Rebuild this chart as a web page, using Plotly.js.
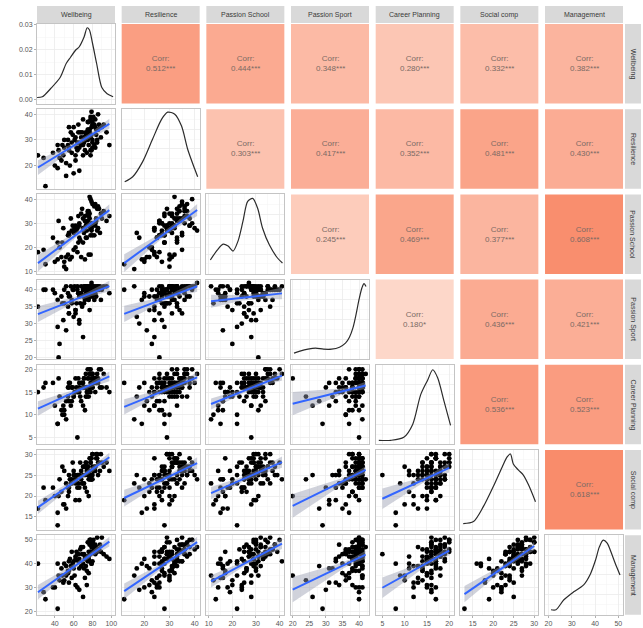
<!DOCTYPE html>
<html><head><meta charset="utf-8">
<script src="https://cdn.plot.ly/plotly-3.0.1.min.js"></script>
<style>html,body{margin:0;padding:0;background:#fff}#chart{width:643px;height:628px}</style>
</head><body><div id="chart"></div>
<script>
// ---------- DATA ----------
const variableNames = ['Wellbeing','Resilience','Passion School','Passion Sport','Career Planning','Social comp','Management'];

const wellbeing = [
40,22,52,43,47,30,55,43,28,50,
55,45,62,38,52,58,44,65,49,54,
58,66,50,62,54,70,56,48,64,60,
66,57,63,74,55,68,61,72,59,65,
70,76,62,72,78,66,60,74,71,68,
74,79,67,76,71,78,64,77,80,73,
76,72,80,69,78,75,82,77,70,79,
78,82,75,85,76,80,73,83,79,88,
80,86,77,83,90,79,75,84,81,87,
84,92,80,86,98,78,89,83,95,85];
const resilience = [
20,24,16,28,22,12,26,19,23,30,
27,23,31,25,21,29,26,33,24,28,
25,18,27,22,30,24,20,28,26,17,
29,33,27,31,35,28,30,26,32,36,
28,32,24,30,26,27,35,25,29,31,
30,26,33,28,31,24,29,34,27,32,
34,31,37,33,39,30,36,32,38,35,
31,28,34,30,37,29,33,27,32,35,
36,40,33,38,35,41,37,34,39,36,
32,36,30,34,28,38,31,35,33,29];
const passionSchool = [
14,18,11,22,16,13,25,15,19,12,
26,20,29,24,16,27,31,22,28,25,
16,24,14,20,17,28,15,22,18,26,
29,32,27,30,25,34,28,31,29,33,
22,17,27,15,25,30,19,24,28,16,
27,30,23,29,26,17,28,32,25,29,
35,33,38,36,40,34,37,41,32,39,
28,25,31,27,33,29,24,30,28,26,
30,28,34,29,32,27,35,31,30,36,
32,35,30,37,33,29,34,38,31,36];
const passionSport = [
39,35,41,29,38,40,33,37,40,36,
38,24,33,40,28,36,20,39,31,35,
37,30,40,34,39,26,38,36,41,32,
38,41,36,40,33,39,41,37,40,39,
40,37,34,41,39,31,40,38,36,41,
41,39,36,40,41,38,40,34,41,39,
40,38,41,35,40,39,37,41,38,40,
41,39,40,41,38,40,41,39,40,41,
40,41,39,41,40,42,41,38,41,40,
40,41,38,40,39,41,37,40,41,40];
const careerPlanning = [
12,15,9,8,11,17,13,8,16,10,
16,14,15,17,13,16,18,15,12,16,
13,16,11,15,14,12,17,10,15,14,
15,12,16,14,17,13,15,11,16,18,
17,15,18,16,19,17,14,16,18,17,
15,17,14,16,18,15,5,16,17,14,
18,16,19,17,20,18,17,19,16,18,
16,18,15,17,14,16,19,15,17,16,
19,17,20,18,16,19,20,17,18,20,
17,19,16,18,15,17,20,18,16,19];
const socialComp = [
20,17,23,13,21,19,25,16,22,18,
21,24,19,22,17,23,20,25,18,22,
24,22,26,23,20,25,24,27,22,25,
25,23,24,27,22,26,24,25,28,23,
23,20,25,22,24,19,26,21,23,24,
26,24,28,25,27,29,25,26,24,28,
24,27,25,23,28,25,26,24,27,25,
28,26,27,29,25,30,28,27,29,26,
27,25,29,26,28,24,27,30,26,28,
29,27,30,28,26,29,30,27,28,30];
const management = [
30,40,35,21,38,25,32,40,28,33,
37,33,42,30,39,45,35,41,32,36,
34,29,40,31,37,26,42,35,30,38,
42,39,45,37,41,47,35,43,40,44,
40,36,43,34,45,38,41,31,44,39,
43,40,46,42,38,45,44,48,41,39,
45,42,48,44,50,43,46,41,47,45,
44,47,41,45,43,49,42,46,40,48,
48,46,50,44,51,47,49,45,50,46,
47,44,49,46,42,50,45,48,43,51];

// correlation labels, upper triangle, row by row
const corrWellbeing      = ['0.512***','0.444***','0.348***','0.280***','0.332***','0.382***'];
const corrResilience     = ['0.303***','0.417***','0.352***','0.481***','0.430***'];
const corrPassionSchool  = ['0.245***','0.469***','0.377***','0.608***'];
const corrPassionSport   = ['0.180*','0.436***','0.421***'];
const corrCareerPlanning = ['0.536***','0.523***'];
const corrSocialComp     = ['0.618***'];

// diagonal densities
const densWellbeingX = [21.1,26.7,35.6,45.6,52.2,56.7,62.2,65.6,71.1,74.4,76.7,80,84.4,90,95.6,102];
const densWellbeingY = [0.0009,0.0012,0.0045,0.0089,0.0146,0.017,0.0199,0.021,0.0251,0.0288,0.028,0.0227,0.0146,0.0049,0.0024,0.0012];
const densResilienceX = [12.2,15.4,19.3,23.3,26.9,29.3,32.1,34.8,37.2,40,41.2];
const densResilienceY = [0.007,0.012,0.027,0.050,0.070,0.077,0.075,0.063,0.040,0.020,0.012];
const densPassionSchoolX = [10.7,13.6,16.1,18.2,20.3,22.4,24.5,26.5,28.6,30.7,32.8,35.7,39.1,41.2];
const densPassionSchoolY = [0.014,0.024,0.030,0.028,0.023,0.033,0.053,0.073,0.076,0.066,0.046,0.029,0.016,0.011];
const densPassionSportX = [20.4,22.2,24.6,26.9,29.3,31.7,34.1,35.9,37.1,38.2,39.1,40,40.9,41.5,42.1];
const densPassionSportY = [0.006,0.008,0.010,0.011,0.010,0.010,0.012,0.016,0.022,0.032,0.045,0.060,0.072,0.076,0.073];
const densCareerPlanningX = [4.2,6.9,9.8,11.8,13.6,15.2,16.3,17.4,18.8,20.3];
const densCareerPlanningY = [0.004,0.004,0.007,0.020,0.050,0.065,0.075,0.067,0.044,0.019];
const densSocialCompX = [12.7,15.2,17.6,20,22.2,23.4,24.2,24.9,26.1,27.3,28.6,30.3];
const densSocialCompY = [0.006,0.008,0.023,0.043,0.063,0.073,0.076,0.066,0.060,0.055,0.045,0.028];
const densManagementX = [21.1,23.2,26.6,30.8,35.1,38,40.2,41.8,43.5,45.2,47,48.6,50.7];
const densManagementY = [0.005,0.005,0.015,0.023,0.030,0.041,0.055,0.068,0.075,0.072,0.062,0.052,0.040];

// ---------- CONFIG ----------
const series = [wellbeing, resilience, passionSchool, passionSport, careerPlanning, socialComp, management];
const corrRows = [corrWellbeing, corrResilience, corrPassionSchool, corrPassionSport, corrCareerPlanning, corrSocialComp];
const densX = [densWellbeingX, densResilienceX, densPassionSchoolX, densPassionSportX, densCareerPlanningX, densSocialCompX, densManagementX];
const densY = [densWellbeingY, densResilienceY, densPassionSchoolY, densPassionSportY, densCareerPlanningY, densSocialCompY, densManagementY];
const axisRanges = [[21,104],[11,42],[9,42],[19.5,43],[3.5,21],[12,31],[18.5,52]];
const axisDtick = [20,10,10,5,5,5,10];
const densRangeFirst = [-0.0015, 0.0303];
const densRangeOther = [0, 0.080];

const W = 643, H = 628;
const colLeft = c => 37 + c * 84.67, colW = 78;
const rowTop = r => 24 + r * 85.2, rowH = 79.5;
const px = x => x / W, py = y => 1 - y / H;

const FONT = 'Liberation Sans, Arial, sans-serif';
const data = [];
const layout = {
  width: W, height: H, margin: {l:0, r:0, t:0, b:0},
  paper_bgcolor: '#fff', plot_bgcolor: '#fff', showlegend: false,
  shapes: [], annotations: [], hovermode: false
};

function baseAxis(dtick) {
  return {
    showgrid: true, gridcolor: '#EBEBEB', gridwidth: 0.8,
    minor: dtick ? {showgrid: true, gridcolor: '#F4F4F4', gridwidth: 0.5, dtick: dtick / 2} : {showgrid: true, gridcolor: '#F4F4F4', gridwidth: 0.5},
    zeroline: false, showline: true, mirror: true, linecolor: '#C4C4C4', linewidth: 1,
    ticks: 'outside', ticklen: 2, tickcolor: '#B0B0B0',
    tickfont: {size: 7, color: '#555', family: FONT}, fixedrange: true
  };
}

function corrColor(r) {
  const t = r / 0.62;
  const R = Math.round(255 - 6 * t), G = Math.round(245 - 105 * t), B = Math.round(240 - 133 * t);
  return `rgb(${R},${G},${B})`;
}

function fitLine(x, y) {
  const n = x.length;
  const mx = x.reduce((a, b) => a + b, 0) / n, my = y.reduce((a, b) => a + b, 0) / n;
  let sxx = 0, sxy = 0;
  for (let i = 0; i < n; i++) { sxx += (x[i] - mx) ** 2; sxy += (x[i] - mx) * (y[i] - my); }
  const b = sxy / sxx, a = my - b * mx;
  let sse = 0;
  for (let i = 0; i < n; i++) sse += (y[i] - a - b * x[i]) ** 2;
  const s2 = sse / (n - 2), tcrit = 1.984;
  const xmin = Math.min(...x), xmax = Math.max(...x);
  const gx = [], fy = [], lo = [], hi = [];
  for (let k = 0; k <= 40; k++) {
    const g = xmin + (xmax - xmin) * k / 40;
    const f = a + b * g;
    const se = Math.sqrt(s2 * (1 / n + (g - mx) ** 2 / sxx));
    gx.push(g); fy.push(f); lo.push(f - tcrit * se); hi.push(f + tcrit * se);
  }
  return {gx, fy, lo, hi};
}

let k = 0;
for (let i = 0; i < 7; i++) {
  for (let j = 0; j < 7; j++) {
    const x0 = colLeft(j), x1 = x0 + colW, y0 = rowTop(i), y1 = y0 + rowH;
    if (j > i) {
      const label = corrRows[i][j - i - 1];
      const val = parseFloat(label);
      layout.shapes.push({type: 'rect', xref: 'paper', yref: 'paper', x0: px(x0), x1: px(x1), y0: py(y1), y1: py(y0),
        fillcolor: corrColor(val), line: {width: 0}, layer: 'below'});
      layout.annotations.push({xref: 'paper', yref: 'paper', x: px((x0 + x1) / 2), y: py((y0 + y1) / 2),
        text: 'Corr:<br>' + label, showarrow: false, xanchor: 'center', yanchor: 'middle',
        font: {size: 8, color: '#7a6a64', family: FONT}, align: 'center'});
      continue;
    }
    k++;
    const xs = k === 1 ? '' : String(k);
    const xa = 'x' + xs, ya = 'y' + xs;
    const xAx = baseAxis(axisDtick[j]);
    Object.assign(xAx, {domain: [px(x0), px(x1)], range: axisRanges[j], anchor: ya,
      tickmode: 'linear', tick0: 0, dtick: axisDtick[j], showticklabels: i === 6});
    if (i !== 6) xAx.ticks = '';
    let yAx;
    if (i === j) {
      yAx = baseAxis(null);
      Object.assign(yAx, {domain: [py(y1), py(y0)], anchor: xa});
      if (i === 0) {
        Object.assign(yAx, {range: densRangeFirst, tickmode: 'array', tickvals: [0, 0.01, 0.02, 0.03],
          ticktext: ['0.00', '0.01', '0.02', '0.03'], showticklabels: true,
          minor: {showgrid: true, gridcolor: '#F4F4F4', gridwidth: 0.5, tickvals: [0.005, 0.015, 0.025]}});
      } else {
        Object.assign(yAx, {range: densRangeOther, tickmode: 'linear', tick0: 0, dtick: 0.02, showticklabels: false, ticks: '',
          minor: {showgrid: true, gridcolor: '#F4F4F4', gridwidth: 0.5, dtick: 0.01}});
      }
      data.push({type: 'scatter', mode: 'lines', x: densX[i], y: densY[i], xaxis: xa, yaxis: ya,
        line: {color: '#2b2b2b', width: 1.2, shape: 'spline', smoothing: 0.8}, hoverinfo: 'skip'});
    } else {
      yAx = baseAxis(axisDtick[i]);
      Object.assign(yAx, {domain: [py(y1), py(y0)], range: axisRanges[i], anchor: xa,
        tickmode: 'linear', tick0: 0, dtick: axisDtick[i], showticklabels: j === 0});
      if (j !== 0) yAx.ticks = '';
      data.push({type: 'scatter', mode: 'markers', x: series[j], y: series[i], xaxis: xa, yaxis: ya,
        marker: {color: '#000', size: 4.8}, hoverinfo: 'skip'});
      const f = fitLine(series[j], series[i]);
      data.push({type: 'scatter', mode: 'lines', x: f.gx, y: f.lo, xaxis: xa, yaxis: ya, line: {width: 0}, hoverinfo: 'skip'});
      data.push({type: 'scatter', mode: 'lines', x: f.gx, y: f.hi, xaxis: xa, yaxis: ya, line: {width: 0},
        fill: 'tonexty', fillcolor: 'rgba(150,155,175,0.45)', hoverinfo: 'skip'});
      data.push({type: 'scatter', mode: 'lines', x: f.gx, y: f.fy, xaxis: xa, yaxis: ya,
        line: {color: '#3366FF', width: 2}, hoverinfo: 'skip'});
    }
    layout['xaxis' + xs] = xAx;
    layout['yaxis' + xs] = yAx;
  }
}

// strips
for (let c = 0; c < 7; c++) {
  const x0 = colLeft(c), x1 = x0 + colW;
  layout.shapes.push({type: 'rect', xref: 'paper', yref: 'paper', x0: px(x0), x1: px(x1), y0: py(23), y1: py(6),
    fillcolor: '#D9D9D9', line: {width: 0}});
  layout.annotations.push({xref: 'paper', yref: 'paper', x: px((x0 + x1) / 2), y: py(14.5), text: variableNames[c],
    showarrow: false, xanchor: 'center', yanchor: 'middle', font: {size: 7, color: '#3a3a3a', family: FONT}});
}
for (let r = 0; r < 7; r++) {
  const y0 = rowTop(r), y1 = y0 + rowH;
  layout.shapes.push({type: 'rect', xref: 'paper', yref: 'paper', x0: px(625), x1: px(641), y0: py(y1), y1: py(y0),
    fillcolor: '#D9D9D9', line: {width: 0}});
  layout.annotations.push({xref: 'paper', yref: 'paper', x: px(633), y: py((y0 + y1) / 2), text: variableNames[r],
    showarrow: false, textangle: 90, xanchor: 'center', yanchor: 'middle', font: {size: 7, color: '#3a3a3a', family: FONT}});
}

Plotly.newPlot('chart', data, layout, {staticPlot: true, displayModeBar: false});
</script>
</body></html>
